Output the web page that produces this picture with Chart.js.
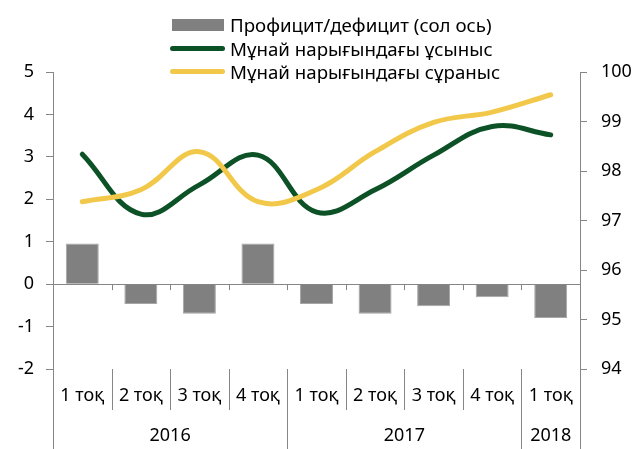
<!DOCTYPE html>
<html lang="kk">
<head>
  <meta charset="UTF-8" />
  <title>Мұнай нарығы</title>
  <script src="https://cdn.jsdelivr.net/npm/chart.js"></script>
</head>
<body style="margin: 0; padding: 0; background: #fff;">

  <div style="position: relative; width: 636px; height: 449px; font-family: 'Noto Sans', 'DejaVu Sans', sans-serif;">
    <canvas id="oilChart" width="636" height="449"></canvas>

    <div id="legend" style="position: absolute; left: 170px; top: 13px; font-size: 18.7px; color: #000; line-height: 23.5px; white-space: nowrap;">
      <div style="display: flex; align-items: center; height: 23.5px;">
        <span style="display: inline-block; width: 52px; height: 12px; background: #808080; margin: 0 6px 0 2px;"></span>Профицит/дефицит (сол ось)
      </div>
      <div style="display: flex; align-items: center; height: 23.5px;">
        <span style="display: inline-block; width: 55px; height: 5px; border-radius: 3px; background: #0d5226; margin-right: 5px;"></span>Мұнай нарығындағы ұсыныс
      </div>
      <div style="display: flex; align-items: center; height: 23.5px;">
        <span style="display: inline-block; width: 55px; height: 5px; border-radius: 3px; background: #f2c84b; margin-right: 5px;"></span>Мұнай нарығындағы сұраныс
      </div>
    </div>
  </div>

  <script>
    // quarters on the x axis, grouped by year underneath
    const quarters = ['1 тоқ', '2 тоқ', '3 тоқ', '4 тоқ', '1 тоқ', '2 тоқ', '3 тоқ', '4 тоқ', '1 тоқ'];
    const years = ['2016', '2017', '2018'];
    const yearSpans = [4, 4, 1];

    // left axis: surplus / deficit
    const balance = [0.96, -0.47, -0.70, 0.96, -0.47, -0.70, -0.52, -0.31, -0.80];
    // right axis: supply and demand
    const supply = [98.34, 97.13, 97.72, 98.32, 97.17, 97.62, 98.32, 98.90, 98.73];
    const demand = [97.38, 97.62, 98.39, 97.38, 97.62, 98.39, 98.98, 99.19, 99.54];

    const leftTicks = [-2, -1, 0, 1, 2, 3, 4, 5];
    const rightTicks = [94, 95, 96, 97, 98, 99, 100];

    const axisColor = '#868686';
    const fontFamily = "'Noto Sans', 'DejaVu Sans', sans-serif";
    const fontSize = 18;

    // quarter labels, separators and year row under the category axis
    const axisDecor = {
      id: 'axisDecor',
      afterDraw(chart) {
        const ctx = chart.ctx;
        const area = chart.chartArea;
        const x = chart.scales.x;
        const y = chart.scales.y;
        const step = (area.right - area.left) / quarters.length;
        const zero = y.getPixelForValue(0);

        const yearEdges = [0];
        yearSpans.forEach(s => yearEdges.push(yearEdges[yearEdges.length - 1] + s));

        ctx.save();
        ctx.strokeStyle = axisColor;
        ctx.lineWidth = 1;
        for (let i = 0; i <= quarters.length; i++) {
          const bx = Math.round(area.left + i * step) + 0.5;
          const isYear = yearEdges.includes(i);
          ctx.beginPath();
          ctx.moveTo(bx, area.bottom);
          ctx.lineTo(bx, isYear ? chart.height : area.bottom + 41);
          ctx.stroke();
          if (i > 0 && i < quarters.length) {
            ctx.beginPath();
            ctx.moveTo(bx, zero);
            ctx.lineTo(bx, zero + 6);
            ctx.stroke();
          }
        }

        ctx.fillStyle = '#000';
        ctx.font = fontSize + 'px ' + fontFamily;
        ctx.textAlign = 'center';
        ctx.textBaseline = 'middle';
        quarters.forEach((label, i) => {
          ctx.fillText(label, x.getPixelForValue(i), area.bottom + 27);
        });
        years.forEach((label, i) => {
          const cx = area.left + (yearEdges[i] + yearEdges[i + 1]) / 2 * step;
          ctx.fillText(label, cx, area.bottom + 67);
        });
        ctx.restore();
      }
    };

    const ctx = document.getElementById('oilChart').getContext('2d');
    new Chart(ctx, {
      type: 'bar',
      data: {
        labels: quarters,
        datasets: [
          {
            label: 'Профицит/дефицит (сол ось)',
            data: balance,
            backgroundColor: '#808080',
            borderColor: '#a6a6a6',
            borderWidth: 1,
            barPercentage: 0.563,
            categoryPercentage: 1,
            yAxisID: 'y',
            order: 3
          },
          {
            type: 'line',
            label: 'Мұнай нарығындағы ұсыныс',
            data: supply,
            borderColor: '#0d5226',
            borderWidth: 5,
            borderCapStyle: 'round',
            borderJoinStyle: 'round',
            pointRadius: 0,
            tension: 0.4,
            fill: false,
            yAxisID: 'y1',
            order: 2
          },
          {
            type: 'line',
            label: 'Мұнай нарығындағы сұраныс',
            data: demand,
            borderColor: '#f2c84b',
            borderWidth: 5,
            borderCapStyle: 'round',
            borderJoinStyle: 'round',
            pointRadius: 0,
            tension: 0.4,
            fill: false,
            yAxisID: 'y1',
            order: 1
          }
        ]
      },
      options: {
        responsive: false,
        animation: false,
        layout: { padding: { top: 72, left: 0, right: 0, bottom: 0 } },
        plugins: {
          legend: { display: false },
          tooltip: { enabled: false }
        },
        scales: {
          x: {
            offset: true,
            grid: { display: false, drawTicks: false },
            border: { display: false },
            ticks: { display: false },
            afterFit: s => { s.height = 80; }
          },
          y: {
            position: 'left',
            min: leftTicks[0],
            max: leftTicks[leftTicks.length - 1],
            afterBuildTicks: s => { s.ticks = leftTicks.map(v => ({ value: v })); },
            grid: {
              color: c => (c.tick && c.tick.value === 0 ? axisColor : 'transparent'),
              tickColor: axisColor,
              tickLength: 7
            },
            border: { display: true, color: axisColor },
            ticks: { color: '#000', font: { family: fontFamily, size: fontSize }, padding: 12 },
            afterFit: s => { s.width = 53; }
          },
          y1: {
            position: 'right',
            min: rightTicks[0],
            max: rightTicks[rightTicks.length - 1],
            afterBuildTicks: s => { s.ticks = rightTicks.map(v => ({ value: v })); },
            grid: { drawOnChartArea: false, tickColor: axisColor, tickLength: 7 },
            border: { display: true, color: axisColor },
            ticks: { color: '#000', font: { family: fontFamily, size: fontSize }, padding: 14 },
            afterFit: s => { s.width = 56; }
          }
        }
      },
      plugins: [axisDecor]
    });
  </script>
</body>
</html>
